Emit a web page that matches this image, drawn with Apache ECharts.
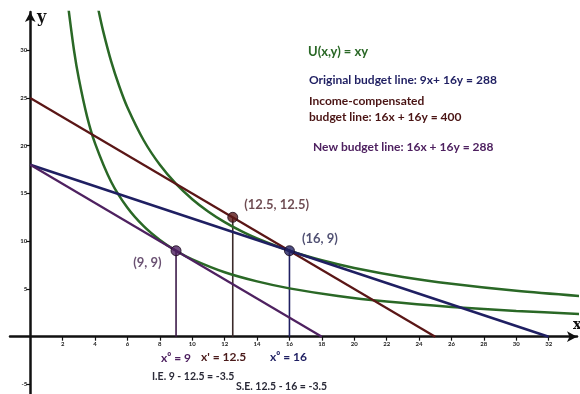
<!DOCTYPE html>
<html><head><meta charset="utf-8">
<script src="https://cdn.jsdelivr.net/npm/echarts@6/dist/echarts.min.js"></script>
<style>html,body{margin:0;padding:0;background:#fff}#c{width:580px;height:394px}</style>
</head><body><div id="c"></div>
<script>
// ---- data ----
const xTicks = [2,4,6,8,10,12,14,16,18,20,22,24,26,28,30,32];
const yTicks = [-5,5,10,15,20,25,30];
const originalBudget = [[0,18],[32,0]];      // 9x + 16y = 288
const compensatedBudget = [[0,25],[25,0]];   // 16x + 16y = 400
const newBudget = [[0,18],[18,0]];           // 16x + 16y = 288
const curveLow = [[2.35,34.5],[2.7,30],[3,27],[3.5,23.1],[4,20.25],[5,16.2],[6,13.5],[7,11.57],[8,10.13],[9,9],[10,8.1],[12,6.75],[14,5.79],[16,5.06],[19,4.26],[22,3.68],[26,3.12],[30,2.7],[34,2.38]];
const curveHigh = [[4.2,34.3],[4.5,32],[5,28.8],[5.5,26.2],[6,24],[7,20.57],[8,18],[9,16],[10,14.4],[11,13.09],[12,12],[13,11.08],[14,10.29],[16,9],[18,8],[20,7.2],[23,6.26],[26,5.54],[30,4.8],[34,4.24]];
const pointNew = [9,9];
const pointComp = [12.5,12.5];
const pointOrig = [16,9];

const GREEN='#2a6826', NAVY='#1f1f62', BROWN='#5a1616', PURPLE='#4e2160';
const F='Lato, "Open Sans", sans-serif';

const chart = echarts.init(document.getElementById('c'));
function line(data,color,w){return {type:'line',data:data,showSymbol:false,symbol:'none',smooth:data.length>2?0.3:false,lineStyle:{color:color,width:w},silent:true,z:3};}
function drop(p,color){return {type:'line',data:[p,[p[0],0]],showSymbol:false,symbol:'none',lineStyle:{color:color,width:1.6},silent:true,z:2};}
function dot(p,fill,lc,text,lpos,loff){return {type:'scatter',data:[p],symbolSize:10,z:5,
  itemStyle:{color:fill,borderColor:'#1a0a1a',borderWidth:1},
  label:{show:true,formatter:text,position:lpos,offset:loff,color:lc,fontFamily:F,fontWeight:'bold',fontSize:13}};}
function txt(x,y,s,color,size){return {type:'text',left:x,top:y,style:{text:s,fill:color,font:'bold '+(size||11)+'px '+F}};}

chart.setOption({
  animation:false,
  grid:{left:10,right:3,top:12,bottom:0,containLabel:false},
  xAxis:{type:'value',min:-1.25,max:33.75,position:'bottom',offset:-57.3,
    axisLine:{onZero:false,symbol:['none','arrow'],symbolSize:[8,10],lineStyle:{color:'#111',width:2.5}},
    axisTick:{show:true,customValues:xTicks,length:4,lineStyle:{color:'#111',width:1.2}},
    axisLabel:{customValues:xTicks,fontSize:6,fontWeight:'bold',color:'#222',margin:4,fontFamily:F},
    splitLine:{show:false}},
  yAxis:{type:'value',min:-6,max:34,position:'left',offset:-20.25,
    axisLine:{onZero:false,symbol:['none','arrow'],symbolSize:[8,10],lineStyle:{color:'#111',width:2.5}},
    axisTick:{show:true,customValues:yTicks,length:4,lineStyle:{color:'#111',width:1.2}},
    axisLabel:{customValues:yTicks,fontSize:6,fontWeight:'bold',color:'#222',margin:3,fontFamily:F},
    splitLine:{show:false}},
  series:[
    line(curveLow,GREEN,2.5),
    line(curveHigh,GREEN,2.5),
    line(compensatedBudget,BROWN,2.2),
    line(originalBudget,NAVY,2.5),
    line(newBudget,PURPLE,2.2),
    drop(pointNew,'#3d1a48'),
    drop(pointComp,'#3a2a2a'),
    drop(pointOrig,NAVY),
    dot(pointNew,PURPLE,'#45254f','(9, 9)','left',[-4,12]),
    dot(pointComp,BROWN,'#4a1e26','(12.5, 12.5)','right',[1,-13]),
    dot(pointOrig,NAVY,'#262650','(16, 9)','right',[2,-12])
  ],
  graphic:[
    {type:'text',left:37,top:10,style:{text:'y',fill:'#111',font:'bold 16px "DejaVu Serif", serif'}},
    {type:'text',left:573,top:318,style:{text:'x',fill:'#111',font:'bold 14px "DejaVu Serif", serif'}},
    txt(308,45,'U(x,y) = xy',GREEN,13),
    txt(309,74,'Original budget line: 9x+ 16y = 288',NAVY,12),
    txt(309,95,'Income-compensated','#4a1414',12),
    txt(309,111,'budget line: 16x + 16y = 400','#4a1414',12),
    txt(313,141,'New budget line: 16x + 16y = 288',PURPLE,12),
    txt(161,352,'x\u2070 = 9',PURPLE,12),
    txt(201,351,"x' = 12.5",'#4a1a1a',12),
    txt(270,351,'x\u2070 = 16',NAVY,12),
    txt(152,371,'I.E. 9 - 12.5 = -3.5','#2a2a38',10.5),
    txt(236,381,'S.E. 12.5 - 16 = -3.5','#2a2a38',10.5)
  ]
});
</script></body></html>
